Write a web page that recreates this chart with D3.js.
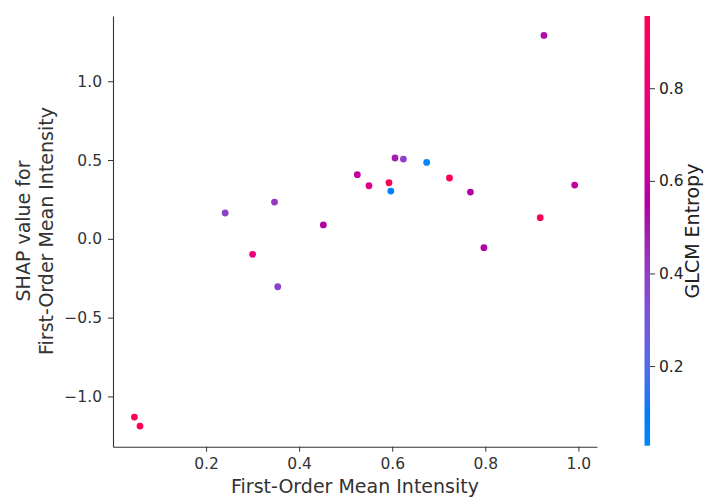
<!DOCTYPE html>
<html>
<head>
<meta charset="utf-8">
<script src="https://cdn.jsdelivr.net/npm/d3@7"></script>
<style>
  body { margin: 0; background: #fff; }
  text { font-family: "DejaVu Sans", sans-serif; }
</style>
</head>
<body>
<svg id="chart" width="709" height="499"></svg>
<script>
// feature value, SHAP value, and the interaction feature used for colour
const meanIntensity = [0.926, 0.606, 0.624, 0.674, 0.525, 0.723, 0.593, 0.550, 0.992, 0.597,
                       0.768, 0.347, 0.241, 0.452, 0.918, 0.797, 0.300, 0.354, 0.046, 0.058];
const shapValues    = [1.291, 0.513, 0.506, 0.485, 0.407, 0.386, 0.356, 0.337, 0.341, 0.303,
                       0.297, 0.233, 0.164, 0.088, 0.134, -0.056, -0.098, -0.304, -1.131, -1.188];
const glcmEntropy   = [0.52, 0.48, 0.40, 0.03, 0.60, 0.95, 0.95, 0.72, 0.60, 0.08,
                       0.55, 0.42, 0.38, 0.55, 0.93, 0.55, 0.80, 0.38, 0.95, 0.95];

const xTicks = [0.2, 0.4, 0.6, 0.8, 1.0];
const yTicks = [-1.0, -0.5, 0.0, 0.5, 1.0];
const cTicks = [0.2, 0.4, 0.6, 0.8];

const xLabel = "First-Order Mean Intensity";
const yLabel = ["SHAP value for", "First-Order Mean Intensity"];
const cLabel = "GLCM Entropy";

const svg = d3.select("#chart");
const axisColor = "#333333";
const tickFont = "15.5px";
const labelFont = "19px";

const x = d3.scaleLinear().domain([0.0, 1.04]).range([113, 597]);
const y = d3.scaleLinear().domain([-1.319, 1.414]).range([446.7, 16]);
const cScale = d3.scaleLinear().domain([0.028, 0.956]).range([445.7, 16]);

// shap's red_blue map, built in LCH like the python one
function redBlue(t) {
	t = Math.max(0, Math.min(1, t));
	const h = 266.93 + (380.32 - 266.93) * t;
	const c = 70 + 20 * t;
	const l = t < 0.5 ? 54 - 28 * t : 40 + 28 * (t - 0.5);
	return d3.hcl(h % 360, c, l).formatRgb();
}
const colorOf = (v) => redBlue((v - 0.028) / (0.956 - 0.028));

// axes
const xAxis = svg.append("g")
	.attr("transform", "translate(0,446.7)")
	.call(d3.axisBottom(x).tickValues(xTicks).tickFormat(d3.format(".1f"))
		.tickSize(5).tickSizeOuter(0).tickPadding(6));

const yAxis = svg.append("g")
	.attr("transform", "translate(113,0)")
	.call(d3.axisLeft(y).tickValues(yTicks).tickFormat((d) => d3.format(".1f")(d).replace("-", "\u2212"))
		.tickSize(5).tickSizeOuter(0).tickPadding(6));

[xAxis, yAxis].forEach((g) => {
	g.select(".domain").attr("stroke", axisColor).attr("stroke-width", 1.1);
	g.selectAll(".tick line").attr("stroke", axisColor);
	g.selectAll(".tick text").attr("fill", axisColor).style("font-size", tickFont);
});

// points
svg.append("g").selectAll("circle")
	.data(meanIntensity.map((d, i) => ({ x: d, y: shapValues[i], c: glcmEntropy[i] })))
	.enter().append("circle")
		.attr("cx", (d) => x(d.x))
		.attr("cy", (d) => y(d.y))
		.attr("r", 3.4)
		.attr("fill", (d) => colorOf(d.c));

// labels
svg.append("text")
	.attr("x", 355).attr("y", 493)
	.attr("text-anchor", "middle")
	.attr("fill", axisColor)
	.style("font-size", labelFont)
	.text(xLabel);

yLabel.forEach((line, i) => {
	svg.append("text")
		.attr("transform", `translate(${30 + i * 22.5},231) rotate(-90)`)
		.attr("text-anchor", "middle")
		.attr("fill", axisColor)
		.style("font-size", labelFont)
		.text(line);
});

// colorbar
const defs = svg.append("defs");
const grad = defs.append("linearGradient")
	.attr("id", "cbar")
	.attr("x1", 0).attr("y1", 1).attr("x2", 0).attr("y2", 0);
d3.range(0, 1.0001, 0.02).forEach((t) => {
	grad.append("stop").attr("offset", t).attr("stop-color", redBlue(t));
});

svg.append("rect")
	.attr("x", 644.5).attr("y", cScale.range()[1])
	.attr("width", 5.5)
	.attr("height", cScale.range()[0] - cScale.range()[1])
	.attr("fill", "url(#cbar)");

const cAxis = svg.append("g")
	.attr("transform", "translate(650,0)")
	.call(d3.axisRight(cScale).tickValues(cTicks).tickFormat(d3.format(".1f"))
		.tickSize(5).tickSizeOuter(0).tickPadding(4));
cAxis.select(".domain").remove();
cAxis.selectAll(".tick line").attr("stroke", axisColor);
cAxis.selectAll(".tick text").attr("fill", "#222").style("font-size", tickFont);

svg.append("text")
	.attr("transform", "translate(698.5,231) rotate(-90)")
	.attr("text-anchor", "middle")
	.attr("fill", "#222")
	.style("font-size", labelFont)
	.text(cLabel);
</script>
</body>
</html>
